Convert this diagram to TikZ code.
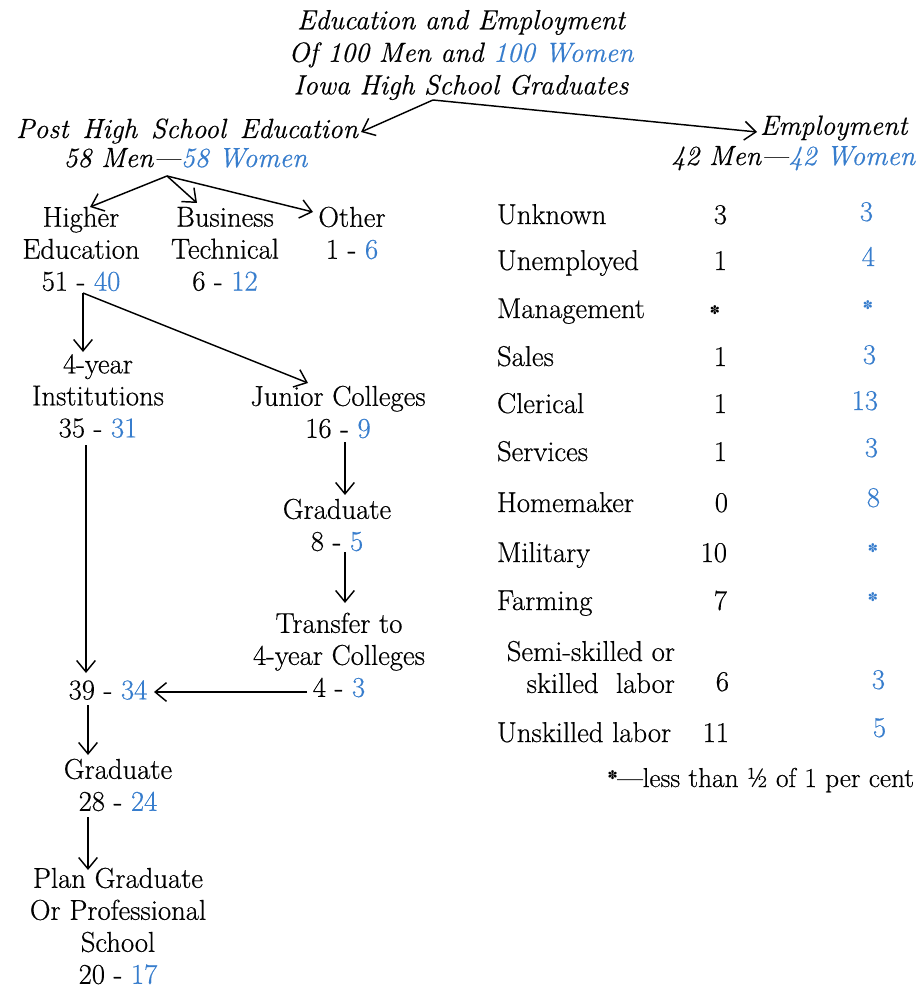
\documentclass[tikz,border=0pt]{standalone}
\usepackage{fontspec}
\setmainfont{Latin Modern Roman}[FakeBold=0.5, ItalicFeatures={FakeBold=0.5}]
\newfontfamily\symfont{DejaVu Sans}
\usetikzlibrary{arrows.meta}
\definecolor{wblue}{RGB}{55,125,205}
\newcommand{\Wm}[1]{\textcolor{wblue}{#1}}
\newcommand{\flw}{{\symfont\fontsize{9}{9}\selectfont ✽}}
\begin{document}
\begin{tikzpicture}[x=0.75pt,y=-0.75pt,
  every node/.style={inner sep=0pt, outer sep=0pt},
  txt/.style={font=\fontsize{21.5}{24}\selectfont, align=center},
  ital/.style={font=\fontsize{20.8}{24.4}\selectfont\itshape, align=center},
  lab/.style={font=\fontsize{21.5}{24}\selectfont, anchor=base west},
  men/.style={font=\fontsize{21.5}{24}\selectfont, anchor=base east},
  wom/.style={font=\fontsize{21.5}{24}\selectfont, anchor=base east, text=wblue},
  arr/.style={-{Straight Barb[length=8.5pt,width=14pt,line width=1.1pt]}, line width=1.1pt}
]
\useasboundingbox (0,0) rectangle (915,991);
\fill[white] (0,0) rectangle (915,991);

% title and headers
\node[ital] (title) at (461,55) {Education and Employment\\Of 100 Men and \Wm{100 Women}\\Iowa High School Graduates};
\node[ital, anchor=base] (post) at (187,138) {\spaceskip=0.5em Post High School Education};
\node[ital, anchor=base east, text=black] (postm) at (181,167) {58 Men—};
\node[ital, anchor=base west, text=wblue] (postw) at (postm.base east) {58 Women};
\node[ital, anchor=west] (emp) at (760,128) {Employment};
\node[ital, anchor=base east, text=wblue] (empw) at (915,165) {42 Women};
\node[ital, anchor=base east, text=black] (empm) at (empw.base west) {42 Men—};

% left tree
\node[txt] (higher) at (81,249) {Higher\\Education\\51 - \Wm{40}};
\node[txt] (bus) at (225,249) {Business\\Technical\\6 - \Wm{12}};
\node[txt] (other) at (352,233) {Other\\1 - \Wm{6}};
\node[txt] (four) at (98,396) {4-year\\Institutions\\35 - \Wm{31}};
\node[txt] (junior) at (338,412) {Junior Colleges\\16 - \Wm{9}};
\node[txt] (jgrad) at (337,525) {Graduate\\8 - \Wm{5}};
\node[txt] (transfer) at (339,655) {Transfer to\\4-year Colleges\\4 - \Wm{3}};
\node[txt] (total) at (108,690) {39 - \Wm{34}};
\node[txt] (grad) at (118,785) {Graduate\\28 - \Wm{24}};
\node[txt] (plan) at (118,926) {Plan Graduate\\Or Professional\\School\\20 - \Wm{17}};

% connector end points
\coordinate (split) at (433,100);
\coordinate (postin) at (361,132);
\coordinate (empin) at (757,132);
\coordinate (fork1) at (167,176);
\coordinate (higherin) at (90,207);
\coordinate (busin) at (197,203);
\coordinate (otherin) at (313,212);
\coordinate (fork2) at (83,293);
\coordinate (fourin) at (83,352);
\coordinate (juniorin) at (308,383);
\coordinate (fourout) at (86,445);
\coordinate (totalin) at (86,673);
\coordinate (juniorout) at (345,442);
\coordinate (jgradin) at (345,495);
\coordinate (jgradout) at (345,552);
\coordinate (transferin) at (345,603);
\coordinate (transferout) at (307,692);
\coordinate (totalright) at (154,692);
\coordinate (totalout) at (88,705);
\coordinate (gradin) at (88,755);
\coordinate (gradout) at (88,817);
\coordinate (planin) at (88,870);

\draw[arr] (split) -- (postin);
\draw[arr] (split) -- (empin);
\draw[arr] (fork1) -- (higherin);
\draw[arr] (fork1) -- (busin);
\draw[arr] (fork1) -- (otherin);
\draw[arr] (fork2) -- (fourin);
\draw[arr] (fork2) -- (juniorin);
\draw[arr] (fourout) -- (totalin);
\draw[arr] (juniorout) -- (jgradin);
\draw[arr] (jgradout) -- (transferin);
\draw[arr] (transferout) -- (totalright);
\draw[arr] (totalout) -- (gradin);
\draw[arr] (gradout) -- (planin);

% employment table
\node[lab] (l1) at (497,224) {Unknown};
\node[lab] (l2) at (497,270) {Unemployed};
\node[lab] (l3) at (497,318) {Management};
\node[lab] (l4) at (497,366) {Sales};
\node[lab] (l5) at (497,413) {Clerical};
\node[lab] (l6) at (497,461) {Services};
\node[lab] (l7) at (497,512) {Homemaker};
\node[lab] (l8) at (497,562) {Military};
\node[lab] (l9) at (497,610) {Farming};
\node[font=\fontsize{21.5}{24}\selectfont, align=right, anchor=east] (l10) at (675,667) {Semi-skilled or\\skilled\ \ labor};
\node[lab] (l11) at (497,742) {Unskilled labor};

\node[men] (m1) at (727,224) {3};
\node[men] (m2) at (727,270) {1};
\node (m3) at (715,310) {\flw};
\node[men] (m4) at (727,366) {1};
\node[men] (m5) at (727,413) {1};
\node[men] (m6) at (727,461) {1};
\node[men] (m7) at (728,512) {0};
\node[men] (m8) at (727,562) {10};
\node[men] (m9) at (727,610) {7};
\node[men] (m10) at (729,691) {6};
\node[men] (m11) at (729,742) {11};

\node[wom] (w1) at (873,221) {3};
\node[wom] (w2) at (875,266) {4};
\node[text=wblue] (w3) at (868,305) {\flw};
\node[wom] (w4) at (876,364) {3};
\node[wom] (w5) at (878,410) {13};
\node[wom] (w6) at (878,457) {3};
\node[wom] (w7) at (880,507) {8};
\node[text=wblue] (w8) at (873,548) {\flw};
\node[text=wblue] (w9) at (873,597) {\flw};
\node[wom] (w10) at (885,689) {3};
\node[wom] (w11) at (886,737) {5};

\node[font=\fontsize{20.5}{24}\selectfont, anchor=base east] (foot) at (914,787) {\raisebox{6pt}{\flw}—less than ½ of 1 per cent};
\end{tikzpicture}
\end{document}
